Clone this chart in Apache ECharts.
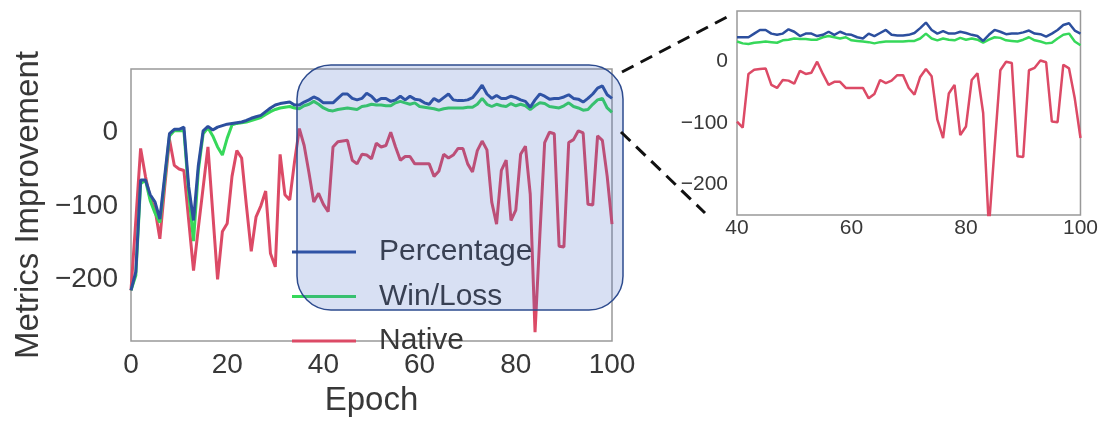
<!DOCTYPE html>
<html>
<head>
<meta charset="utf-8">
<script src="https://cdn.jsdelivr.net/npm/echarts@6/dist/echarts.min.js"></script>
<style>
  html, body { margin: 0; padding: 0; background: #fff; }
  #chart { width: 1101px; height: 422px; }
</style>
</head>
<body>
<div id="chart"></div>
<script>
  // values, epochs 0..100
  const percentage = [-215,-190,-65,-65,-85,-95,-118,-60,-2,4,
    4,7,-74,-120,-45,2,8,3,7,9,
    11,12,13,14,16,19,21,23,28,33,
    37,39,40,41,37,37,41,44,48,45,
    40,40,40,46,52,52,46,44,46,53,
    49,42,46,46,42,44,49,44,49,45,
    44,40,38,46,42,47,52,44,43,43,
    44,47,55,64,52,46,50,46,46,49,
    47,44,42,34,44,52,49,45,46,46,
    48,51,46,45,41,46,52,60,63,51,
    46];
  const winLoss = [-215,-195,-70,-65,-93,-110,-123,-65,-5,2,
    2,2,-83,-148,-52,-2,6,-5,-20,-31,
    -8,10,12,13,14,16,18,20,24,28,
    31,33,34,35,33,32,36,38,42,38,
    33,30,29,31,32,33,32,31,35,36,
    38,37,37,36,36,40,42,40,38,40,
    35,34,33,32,30,32,33,33,33,33,
    34,34,38,46,38,35,38,36,35,39,
    36,38,36,31,36,40,39,35,34,33,
    36,40,35,33,30,31,38,44,46,33,
    27];
  const native = [-215,-120,-22,-60,-90,-105,-145,-75,-10,-45,
    -50,-52,-120,-188,-130,-75,-20,-110,-200,-135,
    -124,-60,-25,-35,-100,-162,-115,-100,-80,-165,
    -183,-30,-85,-92,-40,5,-18,-55,-95,-83,
    -98,-108,-20,-13,-12,-11,-38,-43,-30,-31,
    -36,-15,-20,-18,0,-20,-38,-33,-33,-43,
    -43,-43,-43,-60,-53,-30,-35,-31,-22,-22,
    -43,-54,-25,-12,-24,-95,-125,-52,-38,-120,
    -106,-30,-19,-84,-272,-140,-14,0,-2,-155,
    -156,-14,-10,2,-1,-98,-99,-5,-11,-60,
    -125];
  const seriesNames = ['Percentage', 'Win/Loss', 'Native'];
  const yTicks = [-200, -100, 0];
  const zoomStart = 40; // first epoch shown in the inset

  const epochs = percentage.map((_, i) => i);
  const pairs = arr => arr.map((v, i) => [epochs[i], v]);
  const colors = ['#2c4f9e', '#36d85a', '#dc4a66'];
  const font = "'Liberation Sans', Arial, sans-serif";
  const txt = '#383838';
  const minus = v => String(v).replace('-', '\u2212');

  const chart = echarts.init(document.getElementById('chart'));

  const frame = { show: true, borderColor: '#999', borderWidth: 1.5, backgroundColor: 'transparent' };
  const bare = { axisLine: { show: false }, axisTick: { show: false }, splitLine: { show: false } };

  const values = [percentage, winLoss, native];
  const series = [];
  values.forEach((arr, k) => {
    series.push({
      name: seriesNames[k], type: 'line', xAxisIndex: 0, yAxisIndex: 0,
      data: pairs(arr), symbol: 'none', lineStyle: { width: 3, color: colors[k] },
      itemStyle: { color: colors[k] }, z: 3 - k
    });
  });
  values.forEach((arr, k) => {
    series.push({
      name: seriesNames[k], type: 'line', xAxisIndex: 1, yAxisIndex: 1,
      data: pairs(arr).slice(zoomStart), symbol: 'none', lineStyle: { width: 2.5, color: colors[k] },
      itemStyle: { color: colors[k] }, z: 3 - k
    });
  });

  chart.setOption({
    animation: false,
    textStyle: { fontFamily: font },
    grid: [
      Object.assign({ left: 131, top: 69, width: 481, height: 278 }, frame),
      Object.assign({ left: 737, top: 11, width: 345, height: 204 }, frame)
    ],
    xAxis: [
      Object.assign({
        gridIndex: 0, type: 'value', min: 0, max: 100, interval: 20,
        axisLabel: { fontSize: 28, color: txt, margin: 10 },
        name: 'Epoch', nameLocation: 'middle', nameGap: 40,
        nameTextStyle: { fontSize: 33, color: txt }
      }, bare),
      Object.assign({
        gridIndex: 1, type: 'value', min: 40, max: 100, interval: 20,
        axisLabel: { fontSize: 21, color: txt, margin: 3 }
      }, bare)
    ],
    yAxis: [
      Object.assign({
        gridIndex: 0, type: 'value', min: -284, max: 86,
        axisLabel: { customValues: yTicks, formatter: minus, fontSize: 28, color: txt, margin: 13 },
        name: 'Metrics Improvement', nameLocation: 'middle', nameGap: 86,
        nameTextStyle: { fontSize: 33, color: txt }
      }, bare),
      Object.assign({
        gridIndex: 1, type: 'value', min: -251, max: 83,
        axisLabel: { customValues: yTicks, formatter: minus, fontSize: 21, color: txt, margin: 9 }
      }, bare)
    ],
    legend: {
      orient: 'vertical', left: 287, top: 230,
      icon: 'rect', itemWidth: 64, itemHeight: 3, itemGap: 10.5,
      data: seriesNames,
      textStyle: { fontSize: 30, color: txt, lineHeight: 34, padding: [0, 0, 0, 18] }
    },
    graphic: [
      { type: 'rect', z: 100, shape: { x: 297, y: 65, width: 326, height: 245, r: 34 },
        style: { fill: 'rgba(60,100,195,0.2)', stroke: '#2d4b8e', lineWidth: 1.5 } },
      { type: 'line', z: 100, shape: { x1: 622, y1: 72, x2: 727, y2: 17 },
        style: { stroke: '#111', lineWidth: 3, lineDash: [13, 8] } },
      { type: 'line', z: 100, shape: { x1: 621, y1: 132, x2: 705, y2: 213 },
        style: { stroke: '#111', lineWidth: 3, lineDash: [13, 8] } }
    ],
    series: series
  });
</script>
</body>
</html>
